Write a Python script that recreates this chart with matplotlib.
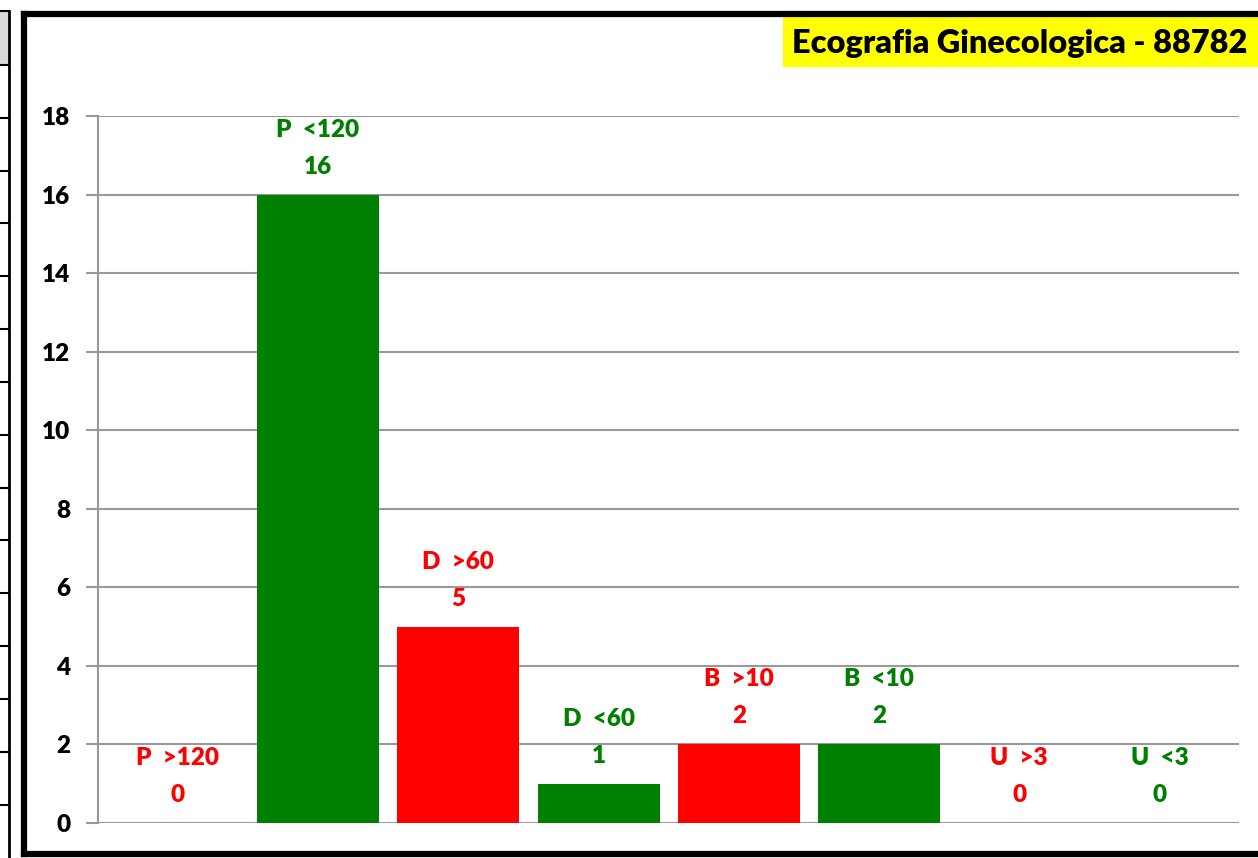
import matplotlib.pyplot as plt
from matplotlib.patches import Rectangle
from matplotlib.lines import Line2D

plt.rcParams['font.family'] = ['Lato', 'DejaVu Sans']

# dati del grafico
categorie = ['P  >120', 'P  <120', 'D  >60', 'D  <60', 'B  >10', 'B  <10', 'U  >3', 'U  <3']
valori = [0, 16, 5, 1, 2, 2, 0, 0]
colori = ['#FF0000', '#008000', '#FF0000', '#008000', '#FF0000', '#008000', '#FF0000', '#008000']
titolo = 'Ecografia Ginecologica - 88782'
y_ticks = [0, 2, 4, 6, 8, 10, 12, 14, 16, 18]

W, H = 1258, 858
PESO = 'heavy'
fig = plt.figure(figsize=(W / 100, H / 100), dpi=100)

# area del grafico in pixel
x0, x1, y0, y1 = 98, 1239, 823, 116
ax = fig.add_axes([x0 / W, (H - y0) / H, (x1 - x0) / W, (y0 - y1) / H])

x = list(range(len(categorie)))
ax.bar(x, valori, width=0.87, color=colori, zorder=3)

for i, (nome, v, c) in enumerate(zip(categorie, valori, colori)):
    ax.annotate(str(v), xy=(i, v), xytext=(0, 28), textcoords='offset pixels',
                ha='center', va='center', color=c, fontsize=17.5, fontweight=PESO)
    ax.annotate(nome, xy=(i, v), xytext=(0, 65), textcoords='offset pixels',
                ha='center', va='center', color=c, fontsize=17.5, fontweight=PESO)

ax.set_xlim(-0.569, 7.567)
ax.set_ylim(0, 18)
ax.set_yticks(y_ticks)
ax.set_yticklabels([str(t) for t in y_ticks], fontsize=17.5, fontweight=PESO)
ax.set_xticks([])
ax.grid(axis='y', color='#999999', linewidth=1.5, zorder=0)
for s in ['top', 'right', 'bottom']:
    ax.spines[s].set_visible(False)
ax.spines['left'].set_color('#999999')
ax.spines['left'].set_linewidth(1.5)
ax.tick_params(axis='y', length=9, width=1.5, color='#999999', pad=11)

# cornice del grafico (lato destro fuori dall'immagine)
def fx(xp):
    return xp / W

def fy(yp):
    return 1 - yp / H

bordo = dict(transform=fig.transFigure, color='black', linewidth=4.5, solid_capstyle='projecting')
fig.lines.append(Line2D([fx(24), fx(24)], [fy(14), fy(854)], **bordo))
fig.lines.append(Line2D([fx(24), fx(W + 20)], [fy(14), fy(14)], **bordo))
fig.lines.append(Line2D([fx(24), fx(W + 20)], [fy(854), fy(854)], **bordo))

# titolo con sfondo giallo
fig.patches.append(Rectangle((fx(783), fy(67)), (W - 783 + 10) / W, 50 / H,
                             transform=fig.transFigure, facecolor='#FFFF00', edgecolor='none'))
fig.text(fx(792), fy(43), titolo, fontsize=23.4, fontweight=PESO, va='center', ha='left')

# frammento di tabella a sinistra
fig.patches.append(Rectangle((0, fy(64)), 9 / W, 53 / H, transform=fig.transFigure,
                             facecolor='#D9D9D9', edgecolor='none'))
fig.lines.append(Line2D([fx(9), fx(9)], [0, fy(11)], transform=fig.transFigure,
                        color='black', linewidth=2))
fig.lines.append(Line2D([0, fx(9)], [fy(11), fy(11)], transform=fig.transFigure,
                        color='black', linewidth=1.5))
for k in range(15):
    yy = fy(65 + 52.83 * k)
    fig.lines.append(Line2D([0, fx(9)], [yy, yy], transform=fig.transFigure,
                            color='black', linewidth=1.5))

fig.savefig('out.png', dpi=100)
